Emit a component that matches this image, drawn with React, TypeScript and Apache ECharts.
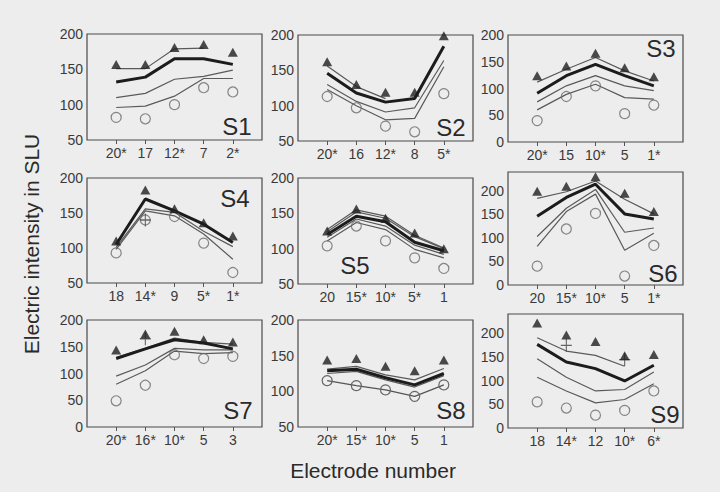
import React, { useEffect, useRef } from "react";
import * as echarts from "echarts";

// ---------- data ----------
const s1Labels = ["20*", "17", "12*", "7", "2*"];
const s1Thick = [132, 139, 165, 165, 157];
const s1Thin = [
  [151, 151, 179, 180, null],
  [110, 116, 136, 140, 149],
  [96, 98, 112, 137, 137],
];
const s1Tri = [157, 157, 181, 185, 174];
const s1Circ = [82, 80, 100, 124, 118];
const s1Plus = [null, null, null, null, null];

const s2Labels = ["20*", "16", "12*", "8", "5*"];
const s2Thick = [146, 118, 105, 110, 184];
const s2Thin = [
  [156, 127, 110, null, null],
  [130, 106, 91, 97, 164],
  [123, 100, 80, 82, 155],
];
const s2Tri = [162, 130, 119, 119, 199];
const s2Circ = [113, 97, 71, 63, 117];
const s2Plus = [null, null, null, null, null];

const s3Labels = ["20*", "15", "10*", "5", "1*"];
const s3Thick = [91, 124, 145, 124, 105];
const s3Thin = [
  [112, 136, 158, 133, 114],
  [75, 105, 124, 105, 96],
  [60, 89, 108, 83, 80],
];
const s3Tri = [124, 142, 166, 139, 122];
const s3Circ = [40, 85, 105, 53, 69];
const s3Plus = [null, null, null, null, null];

const s4Labels = ["18", "14*", "9", "5*", "1*"];
const s4Thick = [105, 170, 153, 134, 108];
const s4Thin = [
  [101, 156, 151, 124, 102],
  [98, 153, 146, 120, 84],
];
const s4Tri = [110, 183, 156, 136, 117];
const s4Circ = [93, 140, 145, 107, 65];
const s4Plus = [null, 140, null, null, null];

const s5Labels = ["20", "15*", "10*", "5*", "1"];
const s5Thick = [120, 146, 138, 109, 97];
const s5Thin = [
  [124, 152, 143, 117, 100],
  [127, 155, 146, 119, 101],
  [116, 142, 132, 105, 92],
  [111, 137, 127, 99, 87],
];
const s5Tri = [125, 156, 143, 122, 100];
const s5Circ = [104, 132, 111, 87, 72];
const s5Plus = [null, null, null, null, null];

const s6Labels = ["20", "15*", "10*", "5", "1*"];
const s6Thick = [146, 186, 214, 151, 140];
const s6Thin = [
  [184, 198, 221, 182, 151],
  [103, 163, 203, 112, 121],
  [82, 156, 193, 74, 110],
];
const s6Tri = [199, 210, 230, 195, 156];
const s6Circ = [40, 119, 152, 19, 84];
const s6Plus = [null, null, null, null, null];

const s7Labels = ["20*", "16*", "10*", "5", "3"];
const s7Thick = [128, 146, 163, 157, 146];
const s7Thin = [
  [130, 147, 166, 158, 155],
  [95, 116, 147, 144, 144],
  [80, 105, 142, 137, 139],
];
const s7Tri = [144, 174, 179, 163, 159];
const s7Circ = [49, 78, 135, 128, 132];
const s7Plus = [null, 165, null, null, null];

const s8Labels = ["20*", "15*", "10*", "5", "1"];
const s8Thick = [129, 131, 119, 109, 125];
const s8Thin = [
  [131, 135, 123, 116, 132],
  [125, 128, 116, 106, 122],
];
const s8Tri = [144, 146, 135, 129, 144];
const s8Circ = [115, 108, 102, 93, 109];
const s8Plus = [null, null, null, null, null];

const s9Labels = ["18", "14*", "12", "10*", "6*"];
const s9Thick = [176, 139, 125, 99, 132];
const s9Thin = [
  [190, 162, 153, 130, null],
  [146, 107, 78, 81, 118],
  [107, 78, 53, 60, 93],
];
const s9Tri = [221, 196, 182, 152, 155];
const s9Circ = [55, 42, 27, 37, 78];
const s9Plus = [null, 174, null, 144, null];

const yRanges = [
  [50, 200], [50, 200], [0, 200],
  [50, 200], [50, 200], [0, 240],
  [0, 200], [50, 200], [0, 240],
];

// ---------- layout (pixels) ----------
const panelBoxes = [
  [87, 34, 175, 106], [298, 35, 175, 106], [508, 35, 175, 107],
  [87, 178, 175, 105], [298, 178, 175, 106], [508, 172, 175, 113],
  [87, 320, 175, 107], [298, 320, 175, 107], [508, 314, 175, 114],
];
const panelNamePos = [
  [237, 126], [451, 127], [661, 48],
  [235, 198], [355, 265], [663, 273],
  [238, 410], [451, 410], [665, 414],
];

const panels = [
  { name: "S1", labels: s1Labels, thick: s1Thick, thin: s1Thin, tri: s1Tri, circ: s1Circ, plus: s1Plus, circLine: false },
  { name: "S2", labels: s2Labels, thick: s2Thick, thin: s2Thin, tri: s2Tri, circ: s2Circ, plus: s2Plus, circLine: false },
  { name: "S3", labels: s3Labels, thick: s3Thick, thin: s3Thin, tri: s3Tri, circ: s3Circ, plus: s3Plus, circLine: false },
  { name: "S4", labels: s4Labels, thick: s4Thick, thin: s4Thin, tri: s4Tri, circ: s4Circ, plus: s4Plus, circLine: false },
  { name: "S5", labels: s5Labels, thick: s5Thick, thin: s5Thin, tri: s5Tri, circ: s5Circ, plus: s5Plus, circLine: false },
  { name: "S6", labels: s6Labels, thick: s6Thick, thin: s6Thin, tri: s6Tri, circ: s6Circ, plus: s6Plus, circLine: false },
  { name: "S7", labels: s7Labels, thick: s7Thick, thin: s7Thin, tri: s7Tri, circ: s7Circ, plus: s7Plus, circLine: false },
  { name: "S8", labels: s8Labels, thick: s8Thick, thin: s8Thin, tri: s8Tri, circ: s8Circ, plus: s8Plus, circLine: true },
  { name: "S9", labels: s9Labels, thick: s9Thick, thin: s9Thin, tri: s9Tri, circ: s9Circ, plus: s9Plus, circLine: false },
];

const BG = "#ededed";
const TEXT = "#3a3a3a";
const FONT = "'Liberation Sans', Arial, sans-serif";

const pad = (arr: (number | null)[]) => ["-", ...arr.map((v) => (v == null ? "-" : v)), "-"];

function buildOption() {
  const grid: any[] = [];
  const xAxis: any[] = [];
  const yAxis: any[] = [];
  const series: any[] = [];
  const graphic: any[] = [];

  panels.forEach((p, i) => {
    const [l, t, w, h] = panelBoxes[i];
    grid.push({ left: l, top: t, width: w, height: h, show: true, borderColor: "#4a4a4a", borderWidth: 1.2, backgroundColor: "transparent" });
    xAxis.push({
      gridIndex: i,
      type: "category",
      data: ["", ...p.labels, ""],
      boundaryGap: false,
      axisLine: { show: false },
      axisTick: { show: true, length: 4, lineStyle: { color: "#555" }, interval: (idx: number) => idx > 0 && idx < 6 },
      axisLabel: { interval: 0, color: TEXT, fontSize: 14, fontFamily: FONT, margin: 6 },
      splitLine: { show: false },
    });
    const [mn, mx] = yRanges[i];
    yAxis.push({
      gridIndex: i,
      type: "value",
      min: mn,
      max: mx,
      interval: 50,
      axisLine: { show: false },
      axisTick: { show: false },
      splitLine: { show: false },
      axisLabel: { color: TEXT, fontSize: 14, fontFamily: FONT, margin: 4, showMaxLabel: mx === 200 },
    });
    const ax = { xAxisIndex: i, yAxisIndex: i };
    p.thin.forEach((arr) => {
      series.push({ ...ax, type: "line", data: pad(arr), symbol: "none", connectNulls: false, lineStyle: { color: "#5a5a5a", width: 1.2 }, z: 2 });
    });
    series.push({ ...ax, type: "line", data: pad(p.thick), symbol: "none", lineStyle: { color: "#1c1c1c", width: 3 }, z: 3 });
    if (p.circLine) {
      series.push({ ...ax, type: "line", data: pad(p.circ), symbol: "circle", symbolSize: 10, showSymbol: true,
        lineStyle: { color: "#555", width: 1.2 },
        itemStyle: { color: "rgba(0,0,0,0)", borderColor: "#666", borderWidth: 1.2 }, z: 4 });
    } else {
      series.push({ ...ax, type: "scatter", data: pad(p.circ), symbol: "circle", symbolSize: 10,
        itemStyle: { color: "rgba(0,0,0,0)", borderColor: "#6a6a6a", borderWidth: 1.2 }, z: 4 });
    }
    series.push({ ...ax, type: "scatter", data: pad(p.plus), symbol: "path://M-0.5,-5h1v10h-1zM-5,-0.5h10v1h-10z", symbolSize: [11, 13],
      itemStyle: { color: "#444" }, z: 4 });
    series.push({ ...ax, type: "scatter", data: pad(p.tri), symbol: "triangle", symbolSize: [10, 9],
      itemStyle: { color: "#1e1e1e" }, z: 5 });

    const [nx, ny] = panelNamePos[i];
    graphic.push({ type: "text", x: nx, y: ny, z: 10,
      style: { text: p.name, fill: "#2a2a2a", font: `24px ${FONT}`, textAlign: "center", textVerticalAlign: "middle" } });
  });

  graphic.push({ type: "text", x: 31, y: 244, rotation: Math.PI / 2, z: 10,
    style: { text: "Electric intensity in SLU", fill: "#2a2a2a", font: `21px ${FONT}`, textAlign: "center", textVerticalAlign: "middle" } });
  graphic.push({ type: "text", x: 373, y: 470, z: 10,
    style: { text: "Electrode number", fill: "#2a2a2a", font: `21px ${FONT}`, textAlign: "center", textVerticalAlign: "middle" } });

  return { animation: false, backgroundColor: BG, grid, xAxis, yAxis, series, graphic };
}

export default function App() {
  const ref = useRef<HTMLDivElement>(null);
  useEffect(() => {
    if (!ref.current) return;
    const chart = echarts.init(ref.current, undefined, { renderer: "svg" });
    chart.setOption(buildOption() as any);
    return () => chart.dispose();
  }, []);
  return <div ref={ref} style={{ position: "absolute", left: 0, top: 0, width: 720, height: 492, background: BG }} />;
}
